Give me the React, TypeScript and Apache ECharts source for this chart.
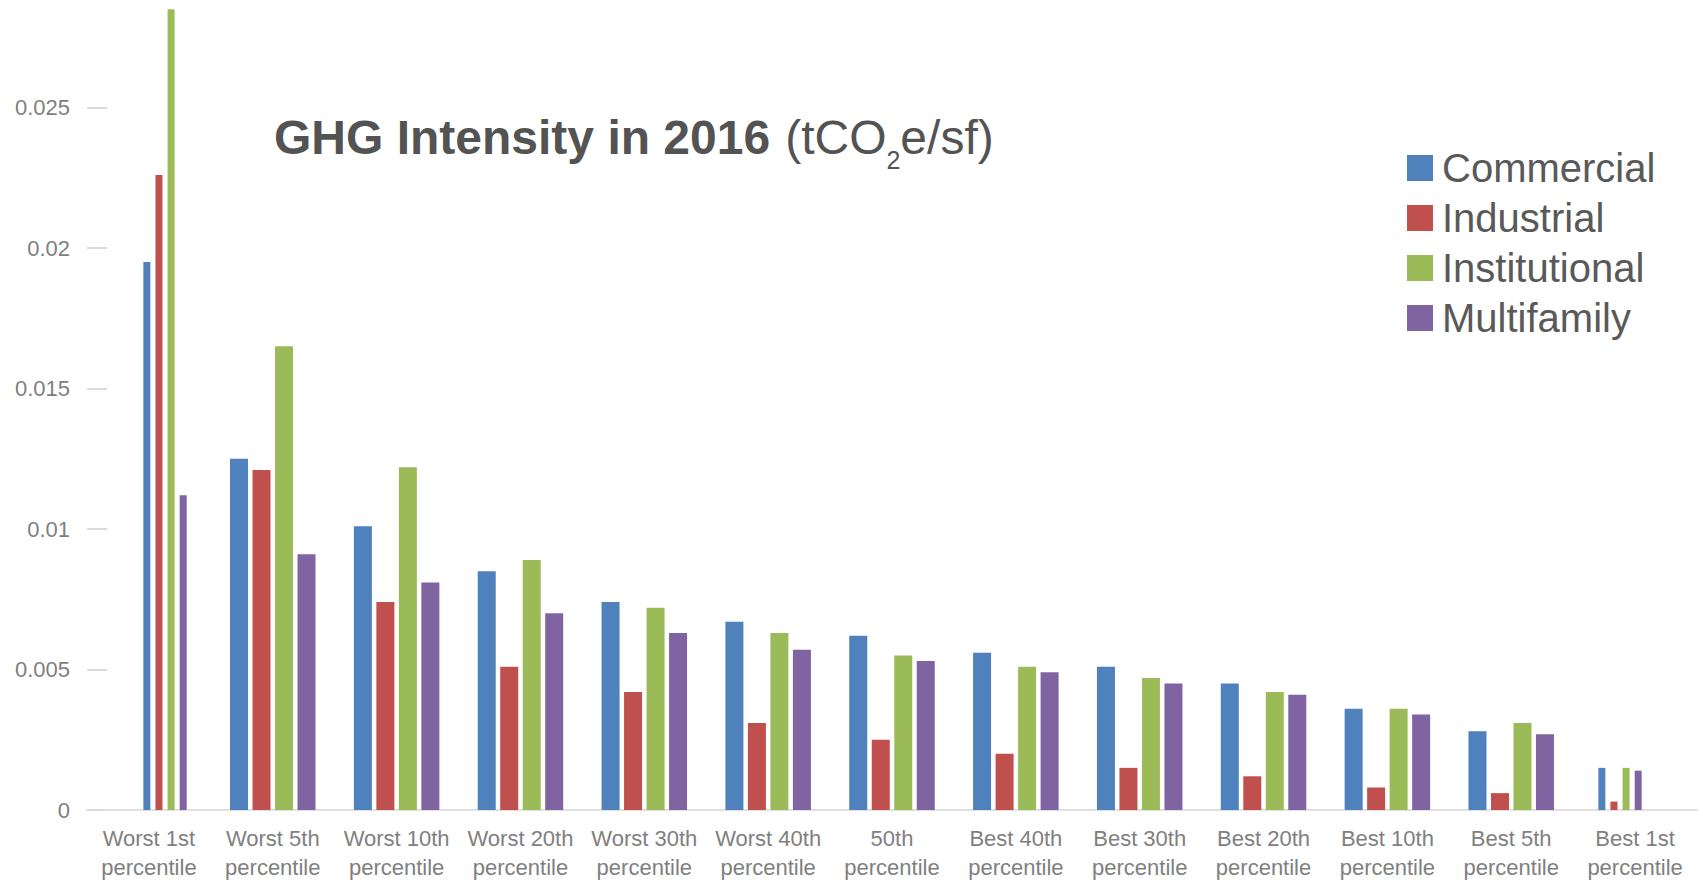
import React, { useEffect, useRef } from "react";
import * as echarts from "echarts";

// Percentile groups along the x axis
const categories = [
  "Worst 1st\npercentile",
  "Worst 5th\npercentile",
  "Worst 10th\npercentile",
  "Worst 20th\npercentile",
  "Worst 30th\npercentile",
  "Worst 40th\npercentile",
  "50th\npercentile",
  "Best 40th\npercentile",
  "Best 30th\npercentile",
  "Best 20th\npercentile",
  "Best 10th\npercentile",
  "Best 5th\npercentile",
  "Best 1st\npercentile",
];

// GHG intensity (tCO2e/sf) per building type
const commercial = [0.0195, 0.0125, 0.0101, 0.0085, 0.0074, 0.0067, 0.0062, 0.0056, 0.0051, 0.0045, 0.0036, 0.0028, 0.0015];
const industrial = [0.0226, 0.0121, 0.0074, 0.0051, 0.0042, 0.0031, 0.0025, 0.002, 0.0015, 0.0012, 0.0008, 0.0006, 0.0003];
const institutional = [0.0285, 0.0165, 0.0122, 0.0089, 0.0072, 0.0063, 0.0055, 0.0051, 0.0047, 0.0042, 0.0036, 0.0031, 0.0015];
const multifamily = [0.0112, 0.0091, 0.0081, 0.007, 0.0063, 0.0057, 0.0053, 0.0049, 0.0045, 0.0041, 0.0034, 0.0027, 0.0014];

// Y axis ticks
const yMin = 0;
const yMax = 0.03;
const yInterval = 0.005;

// The extreme percentile groups are drawn with slim bars
const slimGroups = [0, 12];

const seriesDefs = [
  { name: "Commercial", values: commercial, color: "#4F81BD" },
  { name: "Industrial", values: industrial, color: "#C0504D" },
  { name: "Institutional", values: institutional, color: "#9BBB59" },
  { name: "Multifamily", values: multifamily, color: "#8064A2" },
];

const FONT = "'Liberation Sans', Arial, Helvetica, sans-serif";

export default function App() {
  const ref = useRef<HTMLDivElement>(null);

  useEffect(() => {
    if (!ref.current) return;
    const chart = echarts.init(ref.current, undefined, { renderer: "svg" });

    const wideSeries = seriesDefs.map((s) => ({
      type: "bar" as const,
      name: s.name,
      xAxisIndex: 0,
      yAxisIndex: 0,
      barWidth: 18,
      barGap: "25%",
      itemStyle: { color: s.color },
      data: s.values.map((v, i) => (slimGroups.includes(i) ? "-" : v)),
    }));

    const slimSeries = seriesDefs.map((s) => ({
      type: "bar" as const,
      name: s.name,
      xAxisIndex: 1,
      yAxisIndex: 1,
      barWidth: 7,
      barGap: "73%",
      itemStyle: { color: s.color },
      data: s.values.map((v, i) => (slimGroups.includes(i) ? v : "-")),
    }));

    chart.setOption({
      animation: false,
      backgroundColor: "#ffffff",
      textStyle: { fontFamily: FONT },
      grid: [
        { left: 87, width: 1610, top: -33, bottom: 73, containLabel: false, outerBoundsMode: "none" },
        { left: 104.4, width: 1576.25, top: -33, bottom: 73, containLabel: false, outerBoundsMode: "none" },
      ],
      legend: {
        data: seriesDefs.map((s) => s.name),
        orient: "vertical",
        left: 1402,
        top: 143,
        icon: "rect",
        itemWidth: 26,
        itemHeight: 26,
        itemGap: 10,
        selectedMode: false,
        textStyle: {
          fontSize: 40,
          color: "#595959",
          fontFamily: FONT,
          padding: [0, 0, 0, 4],
        },
      },
      xAxis: [
        {
          type: "category",
          gridIndex: 0,
          data: categories,
          axisLine: { lineStyle: { color: "#e0e0e0", width: 2 } },
          axisTick: { show: false },
          axisLabel: {
            interval: 0,
            fontSize: 22,
            lineHeight: 29,
            color: "#7f7f7f",
            margin: 14,
            fontFamily: FONT,
          },
        },
        {
          type: "category",
          gridIndex: 1,
          data: categories,
          show: false,
        },
      ],
      yAxis: [
        {
          type: "value",
          gridIndex: 0,
          min: yMin,
          max: yMax,
          interval: yInterval,
          splitLine: { show: false },
          axisLine: { show: false },
          axisTick: {
            show: true,
            inside: true,
            length: 20,
            lineStyle: { color: "#dcdcdc", width: 2 },
          },
          axisLabel: {
            fontSize: 22,
            color: "#7f7f7f",
            margin: 17,
            fontFamily: FONT,
            showMaxLabel: false,
          },
        },
        {
          type: "value",
          gridIndex: 1,
          min: yMin,
          max: yMax,
          interval: yInterval,
          show: false,
          splitLine: { show: false },
        },
      ],
      graphic: [
        {
          type: "text",
          x: 274,
          y: 137,
          style: {
            text: "{b|GHG Intensity in 2016}{p|(tCO}{s|2}{n|e/sf)}",
            verticalAlign: "middle",
            align: "left",
            rich: {
              b: { fontSize: 48, fontWeight: "bold", fill: "#535353", fontFamily: FONT },
              p: { fontSize: 48, fill: "#535353", fontFamily: FONT, padding: [0, 0, 0, 15] },
              n: { fontSize: 48, fill: "#535353", fontFamily: FONT },
              s: { fontSize: 25, fill: "#535353", fontFamily: FONT, padding: [46, 0, 0, 0] },
            },
          },
        },
      ],
      series: [...wideSeries, ...slimSeries],
    });

    return () => chart.dispose();
  }, []);

  return (
    <div
      ref={ref}
      style={{ position: "absolute", left: 0, top: 0, width: 1703, height: 883 }}
    />
  );
}
